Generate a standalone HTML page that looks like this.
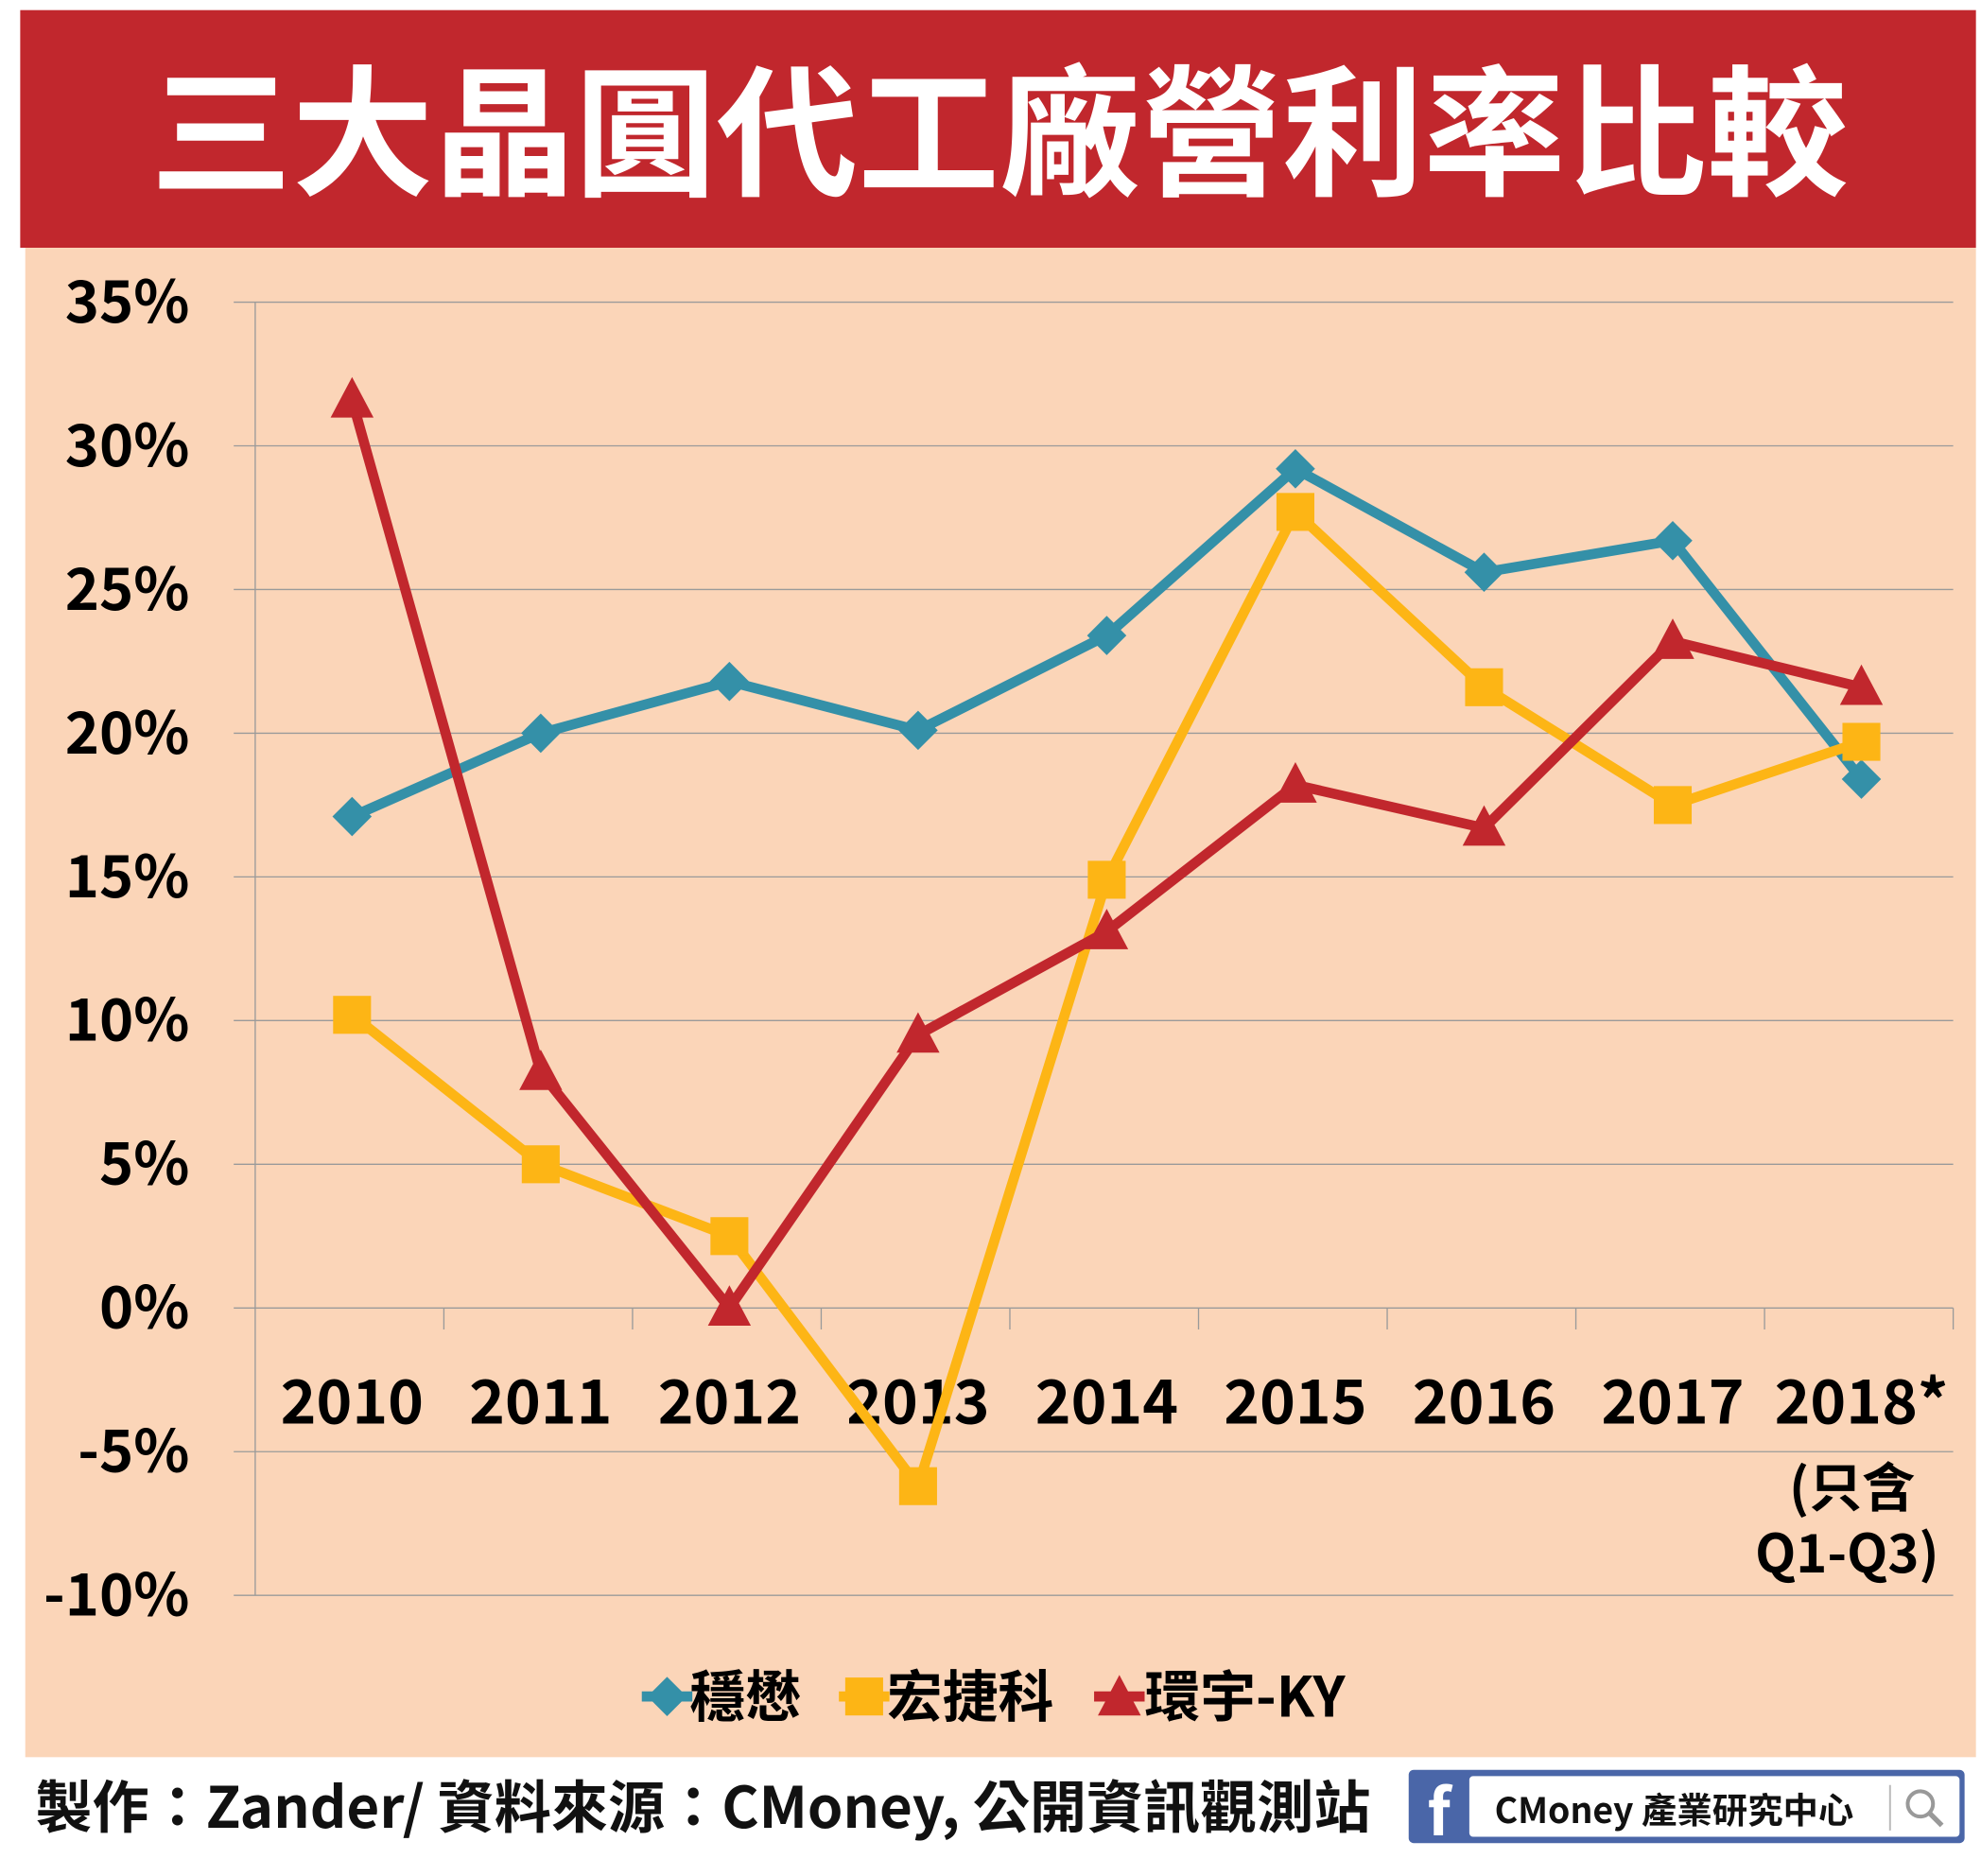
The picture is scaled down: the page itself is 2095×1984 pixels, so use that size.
<!DOCTYPE html>
<html><head><meta charset="utf-8"><style>
html,body{margin:0;padding:0;background:#fff;}
svg{display:block;}
text{font-family:"Noto Sans CJK TC","Liberation Sans",sans-serif;font-weight:bold;}
</style></head><body>
<svg id="chart" width="2095" height="1984" viewBox="0 0 1568 1484" preserveAspectRatio="none">
<rect x="0" y="0" width="1568" height="1484" fill="#fff"/>
<rect x="16" y="8" width="1548" height="188" fill="#C1272D"/>
<text x="791" y="146" text-anchor="middle" font-size="112" fill="#fff">三大晶圓代工廠營利率比較</text>
<rect x="20" y="196" width="1544" height="1194" fill="#FBD5B8"/>
<g id="grid"></g>
<g id="series"></g>
<text x="1466" y="1192" text-anchor="middle" font-size="42" fill="#000">(只含</text>
<text x="1462" y="1244" text-anchor="middle" font-size="42" fill="#000">Q1-Q3)</text>
<g>
  <g>
    <line x1="508" y1="1342" x2="548" y2="1342" stroke="#3490A8" stroke-width="8"/>
    <rect x="517" y="1331" width="22" height="22" fill="#3490A8" transform="rotate(45 528 1342)"/>
    <text x="546" y="1358" font-size="44" fill="#000">穩懋</text>
  </g>
  <g>
    <line x1="664" y1="1342" x2="704" y2="1342" stroke="#FDB515" stroke-width="8"/>
    <rect x="669" y="1327" width="30" height="30" fill="#FDB515"/>
    <text x="702" y="1358" font-size="44" fill="#000">宏捷科</text>
  </g>
  <g>
    <line x1="866" y1="1342" x2="906" y2="1342" stroke="#C1272D" stroke-width="8"/>
    <polygon points="886,1325 903,1357 869,1357" fill="#C1272D"/>
    <text x="906" y="1358" font-size="44" fill="#000">環宇-KY</text>
  </g>
</g>
<text x="28" y="1446" font-size="45" fill="#111">製作：Zander/ 資料來源：CMoney, 公開資訊觀測站</text>
<g>
  <rect x="1115" y="1400" width="440" height="58" rx="4" fill="#4A66A8"/>
  <rect x="1163" y="1405" width="388" height="48" rx="3" fill="#fff"/>
  <text x="1139" y="1452" text-anchor="middle" font-size="50" fill="#fff" font-family="Liberation Sans, sans-serif">f</text>
  <text x="1183" y="1442" font-size="28" fill="#111">CMoney 產業研究中心</text>
  <line x1="1496" y1="1412" x2="1496" y2="1448" stroke="#bbb" stroke-width="1.5"/>
  <circle cx="1520" cy="1427" r="10" fill="none" stroke="#999" stroke-width="3"/>
  <line x1="1527" y1="1434" x2="1537" y2="1444" stroke="#999" stroke-width="4"/>
</g>
</svg>
<script>
const years = ["2010","2011","2012","2013","2014","2015","2016","2017","2018*"];
const tsmc = [17.1, 20.0, 21.8, 20.1, 23.4, 29.2, 25.6, 26.7, 18.4];
const umc = [10.2, 5.0, 2.5, -6.2, 14.9, 27.7, 21.6, 17.5, 19.7];
const gw = [31.6, 8.2, 0.0, 9.5, 13.1, 18.2, 16.7, 23.2, 21.6];
const yTicks = [35, 30, 25, 20, 15, 10, 5, 0, -5, -10];
const yTickLabels = ["35%","30%","25%","20%","15%","10%","5%","0%","-5%","-10%"];

const NS = "http://www.w3.org/2000/svg";
const plotL = 202, plotR = 1546, yTop = 239, yBot = 1262;
function yPos(v){ return yTop + (35 - v) / 45 * (yBot - yTop); }
const step = (plotR - plotL) / years.length;
function xPos(i){ return plotL + step * (i + 0.5) + 2; }
function mk(tag, attrs, parent){ const e = document.createElementNS(NS, tag); for (const k in attrs) e.setAttribute(k, attrs[k]); parent.appendChild(e); return e; }

const grid = document.getElementById("grid");
yTicks.forEach((v, i) => {
  const g = mk("line", {x1:185, x2:plotR, y1:yPos(v), y2:yPos(v), stroke:"#9a9a9a", "stroke-width":1}, grid);
  
  
  const t = mk("text", {x:150, y:yPos(v)+16, "text-anchor":"end", "font-size":46, fill:"#000"}, grid);
  t.textContent = yTickLabels[i];
  
  
});
const ax = mk("line", {x1:plotL, x2:plotL, y1:yTop, y2:yBot, stroke:"#9a9a9a", "stroke-width":1}, grid);


const z = yPos(0);
years.forEach((y, i) => {
  const tk = mk("line", {x1:plotL+step*(i+1), x2:plotL+step*(i+1), y1:z, y2:z+17, stroke:"#9a9a9a", "stroke-width":1}, grid);
  
  
  const t = mk("text", {x:xPos(i), y:1126, "text-anchor":"middle", "font-size":48, fill:"#000"}, grid);
  t.textContent = y;
  
  
});

const ser = document.getElementById("series");
function drawSeries(vals, color, shape, name){
  const pts = vals.map((v, i) => xPos(i) + "," + yPos(v)).join(" ");
  const pl = mk("polyline", {points:pts, fill:"none", stroke:color, "stroke-width":8, "stroke-linejoin":"round"}, ser);
  
  
  vals.forEach((v, i) => {
    const x = xPos(i), y = yPos(v);
    let m;
    if (shape === "diamond") m = mk("rect", {x:x-11, y:y-11, width:22, height:22, fill:color, transform:`rotate(45 ${x} ${y})`}, ser);
    else if (shape === "square") m = mk("rect", {x:x-15, y:y-15, width:30, height:30, fill:color}, ser);
    else m = mk("polygon", {points:`${x},${y-18} ${x+17},${y+14} ${x-17},${y+14}`, fill:color}, ser);
    
    
  });
}
drawSeries(tsmc, "#3490A8", "diamond", "tsmc");
drawSeries(umc, "#FDB515", "square", "umc");
drawSeries(gw, "#C1272D", "triangle", "gw");
</script>
</body></html>
